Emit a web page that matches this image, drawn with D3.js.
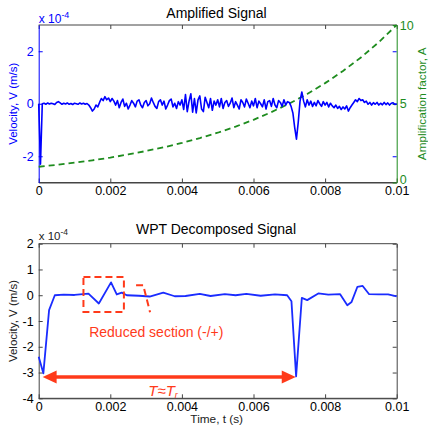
<!DOCTYPE html>
<html><head><meta charset="utf-8">
<script src="https://cdn.jsdelivr.net/npm/d3@7"></script>
<style>body{margin:0;background:#fff} svg{font-family:Arial,"Liberation Sans",sans-serif}</style>
</head><body><svg id="c" width="428" height="430"></svg>
<script>
// ---------- DATA ----------
const timeStep = 0.00005; // sampling step of the amplified signal (s)
const velAmplified = [
 0,-2.3,0.0,
 0.02,-0.02,0.03,-0.01,0.02,0.0,-0.03,0.05,0.08,0.03,-0.02,0.02,-0.01,0.03,-0.02,0.01,-0.03,0.02,0.0,-0.02,0.03,-0.01,0.02,-0.02,0.01,
 -0.05,-0.15,-0.28,-0.2,-0.05,-0.12,0.05,0.2,0.12,0.27,0.15,0.22,
 0.08,0.2,0.1,-0.05,0.12,-0.15,0.05,0.18,-0.1,0.02,
 -0.2,-0.05,0.12,0.02,-0.12,0.1,0.15,-0.05,-0.15,0.05,
 0.12,-0.08,0.0,0.22,0.05,-0.1,-0.18,0.08,0.15,-0.05,
 0.1,-0.2,-0.05,0.12,0.18,-0.12,0.02,-0.18,0.08,-0.05,
 0.15,-0.22,0.35,-0.3,0.1,0.38,-0.32,0.2,-0.35,0.15,
 0.3,-0.2,-0.3,0.25,0.05,-0.15,0.2,-0.25,0.1,-0.05,
 0.15,-0.12,0.2,-0.18,0.05,0.12,-0.1,0.02,0.22,-0.15,
 0.08,-0.05,-0.2,0.15,0.05,-0.12,0.18,0.02,-0.15,0.1,
 -0.08,0.2,-0.15,0.1,0.0,-0.12,0.15,-0.2,0.08,0.12,
 -0.1,0.2,-0.05,-0.15,0.12,0.05,-0.1,0.15,-0.05,0.08,
 0.05,-0.1,-0.35,-0.9,-1.35,-0.7,0.1,0.45,0.1,-0.12,
 0.15,-0.05,0.1,-0.1,0.05,-0.08,0.12,0.0,-0.1,0.08,
 -0.05,0.05,-0.12,0.02,-0.08,-0.15,-0.05,-0.18,-0.1,-0.22,
 -0.12,-0.2,-0.08,-0.28,-0.15,-0.05,0.05,0.15,0.08,0.2,
 0.12,0.15,0.05,0.1,-0.02,0.05,-0.05,0.04,-0.02,0.05,
 -0.05,0.02,-0.04,0.05,-0.03,0.03,-0.05,0.02,0.04,-0.03,
 0.0
];
const ampTimes = [0,0.0005,0.001,0.0015,0.002,0.0025,0.003,0.0035,0.004,0.0045,0.005,0.0055,0.006,0.0065,0.007,0.0075,0.008,0.0085,0.009,0.0095,0.01];
const ampFactor = [1.0,1.12,1.26,1.41,1.58,1.78,2.0,2.24,2.51,2.82,3.16,3.55,3.98,4.47,5.01,5.62,6.31,7.08,7.94,8.91,10.0];
const decTimes = [0,0.00013,0.00029,0.00045,0.0007,0.001,0.00139,0.00168,0.00202,0.00218,0.00232,0.00246,0.0028,0.0031,0.00348,0.0038,0.0041,0.0045,0.0048,0.0052,0.0055,0.0058,0.0062,0.0066,0.00694,0.00706,0.00719,0.00735,0.0075,0.00781,0.00809,0.00842,0.00862,0.00874,0.0089,0.00905,0.00923,0.0095,0.00976,0.01];
const velDecomposed = [-2.39,-3.03,-0.58,0,0.02,0.01,0.06,-0.32,0.5,0.03,0.1,0.0,-0.02,-0.05,0.1,-0.04,-0.03,0.05,-0.03,0.04,0.0,0.05,-0.02,0.03,0.0,-0.23,-3.15,-0.1,-0.19,0.07,0.02,0.04,-0.39,-0.26,0.32,0.36,0.04,0.03,0.03,-0.04];
const xTicks = [0,0.002,0.004,0.006,0.008,0.01];
const xTickLabels = ["0","0.002","0.004","0.006","0.008","0.01"];
const topYTicks = [-2,0,2];
const ampTicks = [0,5,10];
const botYTicks = [-4,-3,-2,-1,0,1,2];
// annotations (data space)
const boxT = [0.00125,0.00238]; const boxV = [0.71,-0.65];
const bracketT = [0.00272,0.00292,0.00311]; const bracketV = [0.39,0.39,-0.66];
const reducedLabel = {t:0.00141, v:-1.62, text:"Reduced section (-/+)"};
const arrowT = [0.00011,0.00718]; const arrowV = -3.17;
const periodLabel = {t:0.00306, v:-3.92};

// ---------- DRAW ----------
const svg = d3.select("#c");
const BLUE="#0000ff", GREEN="#1e8c1e", RED="#ff3a1a", FRAME="#444";
const L=38.7, R=396.7;
const x = d3.scaleLinear().domain([0,0.01]).range([L,R]);

function frame(g, yTop, yBot){
  g.append("line").attr("x1",L).attr("x2",R).attr("y1",yTop).attr("y2",yTop).attr("stroke",FRAME);
  g.append("line").attr("x1",L).attr("x2",R).attr("y1",yBot).attr("y2",yBot).attr("stroke",FRAME);
}
function styleAxis(sel,col,fs){
  sel.select(".domain").attr("stroke",col);
  sel.selectAll(".tick line").attr("stroke",col);
  sel.selectAll(".tick text").attr("fill",col).attr("font-size",fs).attr("font-family","Arial, 'Liberation Sans', sans-serif");
}

// ===== TOP =====
const T0=25, T1=182.5;
const yT = d3.scaleLinear().domain([-3,3]).range([T1,T0]);
const yA = d3.scaleLinear().domain([0,10]).range([T1,T0]);
const gTop = svg.append("g");
frame(gTop,T0,T1);
const xb = gTop.append("g").attr("transform",`translate(0,${T1})`)
  .call(d3.axisBottom(x).tickValues(xTicks).tickFormat((d,i)=>xTickLabels[i]).tickSizeInner(-4).tickSizeOuter(0).tickPadding(4));
styleAxis(xb,"#000","12.5px"); xb.select(".domain").attr("stroke",FRAME); xb.selectAll(".tick line").attr("stroke",FRAME);
const xt = gTop.append("g").attr("transform",`translate(0,${T0})`)
  .call(d3.axisTop(x).tickValues(xTicks).tickFormat("").tickSizeInner(-4).tickSizeOuter(0));
xt.select(".domain").remove(); xt.selectAll(".tick line").attr("stroke",FRAME);
const yl = gTop.append("g").attr("transform",`translate(${L},0)`)
  .call(d3.axisLeft(yT).tickValues(topYTicks).tickFormat(d=>d<0?"-"+Math.abs(d):""+d).tickSizeInner(-4).tickSizeOuter(0).tickPadding(5));
styleAxis(yl,BLUE,"12.5px");
const ylr = gTop.append("g").attr("transform",`translate(${R},0)`)
  .call(d3.axisRight(yT).tickValues(topYTicks).tickFormat("").tickSizeInner(-4).tickSizeOuter(0));
ylr.select(".domain").remove(); ylr.selectAll(".tick line").attr("stroke",BLUE);
const yr = gTop.append("g").attr("transform",`translate(${R},0)`)
  .call(d3.axisRight(yA).tickValues(ampTicks).tickFormat(d3.format("d")).tickSizeInner(-4).tickSizeOuter(0).tickPadding(3));
styleAxis(yr,GREEN,"12.5px");
yr.selectAll(".tick text").attr("dy",d=>d===0?"0.1em":"0.32em");
const ampLine = d3.line().x((d,i)=>x(ampTimes[i])).y(d=>yA(d));
gTop.append("path").datum(ampFactor).attr("d",ampLine).attr("fill","none")
  .attr("stroke",GREEN).attr("stroke-width",1.8).attr("stroke-dasharray","6,4");
const sigLine = d3.line().x((d,i)=>x(i*timeStep)).y(d=>yT(d));
gTop.append("path").datum(velAmplified).attr("d",sigLine).attr("fill","none")
  .attr("stroke",BLUE).attr("stroke-width",1.6).attr("stroke-linejoin","round");
gTop.append("text").attr("x",216.5).attr("y",17.5).attr("text-anchor","middle").attr("font-size","14px").text("Amplified Signal");
const e1 = gTop.append("text").attr("x",L).attr("y",22.5).attr("fill",BLUE).attr("font-size","12px");
e1.append("tspan").text("x 10");
e1.append("tspan").attr("dy",-5).attr("font-size","9px").text("-4");
gTop.append("text").attr("transform",`translate(17,${(T0+T1)/2}) rotate(-90)`).attr("text-anchor","middle")
  .attr("fill",BLUE).attr("font-size","11.5px").text("Velocity, V (m/s)");
gTop.append("text").attr("transform",`translate(426,${(T0+T1)/2}) rotate(-90)`).attr("text-anchor","middle")
  .attr("fill",GREEN).attr("font-size","11.8px").text("Amplification factor, A");

// ===== BOTTOM =====
const B0=243.7, B1=398.3;
const yB = d3.scaleLinear().domain([-4,2]).range([B1,B0]);
const gBot = svg.append("g");
frame(gBot,B0,B1);
const xb2 = gBot.append("g").attr("transform",`translate(0,${B1})`)
  .call(d3.axisBottom(x).tickValues(xTicks).tickFormat((d,i)=>xTickLabels[i]).tickSizeInner(-4).tickSizeOuter(0).tickPadding(4));
styleAxis(xb2,"#000","12.5px"); xb2.select(".domain").attr("stroke",FRAME); xb2.selectAll(".tick line").attr("stroke",FRAME);
const xt2 = gBot.append("g").attr("transform",`translate(0,${B0})`)
  .call(d3.axisTop(x).tickValues(xTicks).tickFormat("").tickSizeInner(-4).tickSizeOuter(0));
xt2.select(".domain").remove(); xt2.selectAll(".tick line").attr("stroke",FRAME);
const yl2 = gBot.append("g").attr("transform",`translate(${L},0)`)
  .call(d3.axisLeft(yB).tickValues(botYTicks).tickFormat(d=>d<0?"-"+Math.abs(d):""+d).tickSizeInner(-4).tickSizeOuter(0).tickPadding(5));
styleAxis(yl2,"#000","12.5px"); yl2.select(".domain").attr("stroke",FRAME); yl2.selectAll(".tick line").attr("stroke",FRAME);
const yr2 = gBot.append("g").attr("transform",`translate(${R},0)`)
  .call(d3.axisRight(yB).tickValues(botYTicks).tickFormat("").tickSizeInner(-4).tickSizeOuter(0));
yr2.select(".domain").attr("stroke",FRAME); yr2.selectAll(".tick line").attr("stroke",FRAME);

const decLine = d3.line().x((d,i)=>x(decTimes[i])).y(d=>yB(d));
gBot.append("path").datum(velDecomposed).attr("d",decLine).attr("fill","none")
  .attr("stroke","#1a2cff").attr("stroke-width",1.8).attr("stroke-linejoin","round");

gBot.append("text").attr("x",216).attr("y",234.3).attr("text-anchor","middle").attr("font-size","14px").text("WPT Decomposed Signal");
const e2 = gBot.append("text").attr("x",L).attr("y",239.5).attr("fill","#222").attr("font-size","11.5px");
e2.append("tspan").text("x 10");
e2.append("tspan").attr("dy",-5).attr("font-size","8.5px").text("-4");
gBot.append("text").attr("transform",`translate(17,${(B0+B1)/2}) rotate(-90)`).attr("text-anchor","middle")
  .attr("fill","#222").attr("font-size","11.5px").text("Velocity, V (m/s)");
gBot.append("text").attr("x",216.7).attr("y",423).attr("text-anchor","middle").attr("fill","#222").attr("font-size","11.8px").text("Time, t (s)");

gBot.append("rect").attr("x",x(boxT[0])).attr("y",yB(boxV[0]))
  .attr("width",x(boxT[1])-x(boxT[0])).attr("height",yB(boxV[1])-yB(boxV[0]))
  .attr("fill","none").attr("stroke",RED).attr("stroke-width",2).attr("stroke-dasharray","7,4");
gBot.append("path").attr("d",d3.line()(bracketT.map((t,i)=>[x(t),yB(bracketV[i])])))
  .attr("fill","none").attr("stroke",RED).attr("stroke-width",2).attr("stroke-dasharray","7,4");
gBot.append("text").attr("x",x(reducedLabel.t)).attr("y",yB(reducedLabel.v)).attr("fill",RED)
  .attr("font-size","14px").text(reducedLabel.text);
const ax0=x(arrowT[0]), ax1=x(arrowT[1]), ay=yB(arrowV), hw=14, hh=6.5;
gBot.append("line").attr("x1",ax0+hw-1).attr("x2",ax1-hw+1).attr("y1",ay).attr("y2",ay).attr("stroke",RED).attr("stroke-width",3.5);
gBot.append("path").attr("d",`M${ax0},${ay}L${ax0+hw},${ay-hh}L${ax0+hw},${ay+hh}Z`).attr("fill",RED);
gBot.append("path").attr("d",`M${ax1},${ay}L${ax1-hw},${ay-hh}L${ax1-hw},${ay+hh}Z`).attr("fill",RED);
const pl = gBot.append("text").attr("x",x(periodLabel.t)).attr("y",yB(periodLabel.v)).attr("fill",RED)
  .attr("font-size","15px").attr("font-style","italic");
pl.append("tspan").text("T≈T");
pl.append("tspan").attr("dy",2).attr("font-size","9px").text("r");
</script></body></html>
